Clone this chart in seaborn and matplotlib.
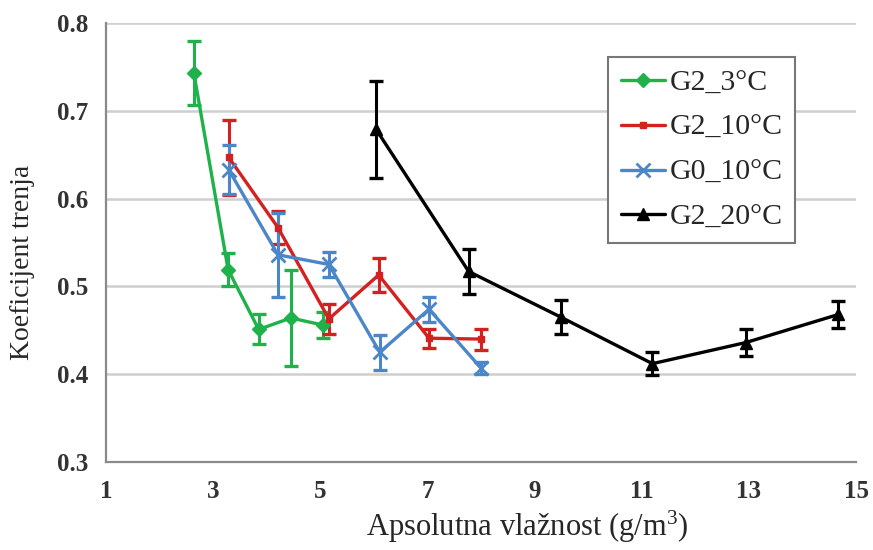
import numpy as np
import pandas as pd
import matplotlib
matplotlib.use("Agg")
import matplotlib.pyplot as plt
import seaborn as sns

# ---- data ----
series_names = ["G2_3°C", "G2_10°C", "G0_10°C", "G2_20°C"]

g2_3_x = [2.64, 3.28, 3.85, 4.45, 5.05]
g2_3_y = [0.743, 0.519, 0.451, 0.464, 0.456]
g2_3_e = [0.036, 0.019, 0.017, 0.055, 0.015]

g2_10_x = [3.29, 4.21, 5.16, 6.09, 7.03, 8.0]
g2_10_y = [0.647, 0.567, 0.463, 0.513, 0.441, 0.440]
g2_10_e = [0.043, 0.019, 0.017, 0.019, 0.011, 0.012]

g0_10_x = [3.29, 4.21, 5.16, 6.11, 7.03, 8.0]
g0_10_y = [0.633, 0.536, 0.525, 0.425, 0.474, 0.407]
g0_10_e = [0.028, 0.048, 0.014, 0.020, 0.014, 0.007]

g2_20_x = [6.04, 7.77, 9.49, 11.2, 12.94, 14.67]
g2_20_y = [0.679, 0.517, 0.465, 0.412, 0.436, 0.468]
g2_20_e = [0.055, 0.026, 0.019, 0.013, 0.015, 0.015]

x_ticks = [1, 3, 5, 7, 9, 11, 13, 15]
y_ticks = [0.3, 0.4, 0.5, 0.6, 0.7, 0.8]

colors = ["#1fb24a", "#d42020", "#4a86c8", "#000000"]
markers = ["D", "s", "x", "^"]
msizes = [7, 5, 10, 8]

# ---- figure ----
sns.set_style("white")
plt.rcParams["font.family"] = ["Liberation Serif", "DejaVu Serif"]
plt.rcParams["mathtext.fontset"] = "custom"
plt.rcParams["mathtext.rm"] = "Liberation Serif"
plt.rcParams["mathtext.it"] = "Liberation Serif:italic"
plt.rcParams["mathtext.bf"] = "Liberation Serif:bold"

fig = plt.figure(figsize=(8.73, 5.5), dpi=100)
ax = fig.add_axes([106 / 873, 1 - 462 / 550, (856 - 106) / 873, (462 - 23) / 550])

all_x = [g2_3_x, g2_10_x, g0_10_x, g2_20_x]
all_y = [g2_3_y, g2_10_y, g0_10_y, g2_20_y]
all_e = [g2_3_e, g2_10_e, g0_10_e, g2_20_e]

frames = []
for name, xs, ys in zip(series_names, all_x, all_y):
    frames.append(pd.DataFrame({"x": xs, "y": ys, "series": name}))
df = pd.concat(frames, ignore_index=True)

for name, xs, ys, es, c, m, ms in zip(series_names, all_x, all_y, all_e, colors, markers, msizes):
    ax.errorbar(xs, ys, yerr=es, fmt="none", ecolor=c, elinewidth=2.2,
                capsize=5, capthick=2.4, zorder=3)
    sub = df[df["series"] == name]
    sns.lineplot(data=sub, x="x", y="y", ax=ax, color=c, marker=m,
                 markersize=ms, markeredgecolor=c, markeredgewidth=2 if m == "x" else 1,
                 linewidth=2.4, label=name, sort=False, zorder=4)

ax.set_xlim(1, 15)
ax.set_ylim(0.3, 0.8)
ax.set_xticks(x_ticks)
ax.set_yticks(y_ticks)
ax.set_xticklabels([str(t) for t in x_ticks])
ax.set_yticklabels([f"{t:.1f}" for t in y_ticks])
for lab in ax.get_xticklabels() + ax.get_yticklabels():
    lab.set_fontweight("bold")
    lab.set_fontsize(18)
    lab.set_color("#333333")

ax.yaxis.grid(True, color="#cfcfcf", linewidth=1.8)
ax.xaxis.grid(False)
ax.set_axisbelow(True)
for s in ["top", "right"]:
    ax.spines[s].set_visible(False)
for s in ["left", "bottom"]:
    ax.spines[s].set_color("#8a8a8a")
    ax.spines[s].set_linewidth(1.6)
ax.tick_params(axis="both", which="both", direction="out", length=5, width=1.4,
               color="#8a8a8a", pad=8)

ax.set_xlabel("")
ax.set_ylabel("")
fig.text(527 / 873, 1 - 527 / 550, r"Apsolutna vlažnost (g/m$^3$)", fontsize=22,
         ha="center", va="center")
fig.text(23 / 873, 1 - 262 / 550, "Koeficijent trenja", fontsize=20,
         rotation=90, ha="center", va="center")

leg = ax.legend(loc="upper left", bbox_to_anchor=(608 / 873, 1 - 57 / 550),
                bbox_transform=fig.transFigure, fontsize=21.5, frameon=True,
                fancybox=False, edgecolor="#777777", handlelength=1.5,
                handletextpad=0.15, labelspacing=0.6, borderpad=0.42,
                borderaxespad=0, framealpha=1)
leg.get_frame().set_linewidth(1.5)

fig.savefig("out.png", dpi=100)
